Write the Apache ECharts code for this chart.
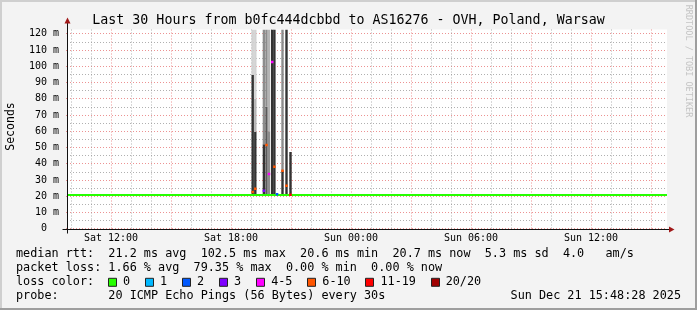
<!DOCTYPE html>
<html><head><meta charset="utf-8">
<script src="https://cdn.jsdelivr.net/npm/echarts@6/dist/echarts.min.js"></script>
<style>html,body{margin:0;padding:0;background:#f3f3f3}#c{width:697px;height:310px}</style>
</head><body><div id="c"></div>
<script>
// ---------------- data ----------------
const TITLE = 'Last 30 Hours from b0fc444dcbbd to AS16276 - OVH, Poland, Warsaw';
// time axis: hours since Sat 00:00 (Sat 09:48 -> Sun 15:48)
const X_START = 9.8, X_END = 39.8;
const xLabelHours = [12, 18, 24, 30, 36];
const xLabels = ['Sat 12:00', 'Sat 18:00', 'Sun 00:00', 'Sun 06:00', 'Sun 12:00'];
const xMajorHours = [12, 15, 18, 21, 24, 27, 30, 33, 36, 39];
const xMinorHours = [10, 11, 13, 14, 16, 17, 19, 20, 22, 23, 25, 26, 28, 29, 31, 32, 34, 35, 37, 38];
const yLabelValues = [0, 10, 20, 30, 40, 50, 60, 70, 80, 90, 100, 110, 120];
const yMinorValues = [5, 15, 25, 35, 45, 55, 65, 75, 85, 95, 105, 115];
const Y_MAX = 122.6;

// median rtt (ms), loss 0 -> green line
const medianTimes = [9.8, 39.8];
const medianValues = [20.7, 20.7];

// median points with packet loss (time, ms, loss class index)
const lossTimes   = [19.085, 19.215, 19.645, 19.775, 19.9, 20.06, 20.17, 20.3, 20.575, 20.775, 20.975];
const lossMedians = [22.6, 24.6, 23.4, 51.5, 33.7, 102.6, 38.2, 21.2, 35.7, 26.5, 20.9];
const lossClass   = [5, 5, 3, 5, 4, 4, 5, 2, 5, 5, 6];

// smoke (ping spread) segments: time, low ms, high ms, density level (0 light .. 4 dense)
const smokeTimes = [19.085, 19.085, 19.215, 19.215, 19.215, 19.645, 19.645, 19.775, 19.775, 19.9, 19.9, 20.06, 20.17, 20.3, 20.575, 20.575, 20.775, 20.975];
const smokeLow   = [20.5, 94.6, 20.5, 59.5, 80, 20.5, 52, 20.5, 75, 20.5, 60, 20.5, 20.5, 20.5, 20.5, 36, 20.5, 20.5];
const smokeHigh  = [94.6, 122.6, 59.5, 80, 122.6, 52, 122.6, 75, 122.6, 60, 122.6, 122.6, 122.6, 22, 36, 122.6, 122.6, 47.2];
const smokeLevel = [4, 0, 4, 1, 0, 4, 2, 3, 2, 2, 1, 4, 4, 2, 4, 2, 4, 4];

// legend
const lossLabels = ['0', '1', '2', '3', '4-5', '6-10', '11-19', '20/20'];
const statsRtt  = 'median rtt:  21.2 ms avg  102.5 ms max  20.6 ms min  20.7 ms now  5.3 ms sd  4.0   am/s';
const statsLoss = 'packet loss: 1.66 % avg  79.35 % max  0.00 % min  0.00 % now';
const probeLine = 'probe:       20 ICMP Echo Pings (56 Bytes) every 30s';
const stampText = 'Sun Dec 21 15:48:28 2025';
const WATERMARK = 'RRDTOOL / TOBI OETIKER';
const Y_NAME = 'Seconds';

// ---------------- styles ----------------
const LOSS_COLORS = ['#26ff00', '#00b8ff', '#0059ff', '#7e00ff', '#ff00ff', '#ff5500', '#ff0000', '#a00000'];
const SMOKE_SHADES = ['#d2d2d2', '#b4b4b4', '#8c8c8c', '#5a5a5a', '#333333'];
const BIN_HOURS = 0.12;
const MONO = '"DejaVu Sans Mono", monospace';
const MINOR_GRID = { color: 'rgba(150,150,150,0.75)', type: [1, 2], width: 1 };
const MAJOR_GRID = { color: 'rgba(230,110,110,0.75)', type: [1, 2], width: 1 };

const chart = echarts.init(document.getElementById('c'), null, { renderer: 'canvas' });

const smokeData = smokeTimes.map((t, i) => [t, smokeLow[i], smokeHigh[i], smokeLevel[i]]);
const lossData = lossTimes.map((t, i) => [t, lossMedians[i], lossClass[i]]);
const medianData = medianTimes.map((t, i) => [t, medianValues[i]]);

const hidden = { axisLine: { show: false }, axisLabel: { show: false } };

chart.setOption({
  backgroundColor: '#f3f3f3',
  animation: false,
  title: {
    text: TITLE, left: 'center', top: 8,
    textStyle: { fontFamily: MONO, fontSize: 13.3, fontWeight: 'normal', color: '#000', lineHeight: 15 }
  },
  grid: [{ left: 67, right: 30, top: 29.5, bottom: 81.3, show: true, backgroundColor: '#ffffff', borderWidth: 0,
           containLabel: false, outerBoundsMode: 'none' }],
  xAxis: [
    { type: 'value', min: X_START, max: X_END, position: 'bottom', ...hidden,
      axisTick: { show: false, customValues: xMinorHours },
      splitLine: { show: true, lineStyle: MINOR_GRID } },
    { type: 'value', min: X_START, max: X_END, position: 'bottom',
      axisLine: { show: false },
      axisTick: { show: true, inside: false, length: 3, customValues: xMajorHours, lineStyle: MAJOR_GRID },
      splitLine: { show: true, lineStyle: MAJOR_GRID },
      axisLabel: { show: true, customValues: xLabelHours, margin: 5, fontFamily: MONO, fontSize: 10, color: '#000',
        formatter: v => xLabels[xLabelHours.indexOf(Math.round(v))] || '' } }
  ],
  yAxis: [
    { type: 'value', min: 0, max: Y_MAX, position: 'left', ...hidden,
      axisTick: { show: false, customValues: yMinorValues },
      splitLine: { show: true, lineStyle: MINOR_GRID } },
    { type: 'value', min: 0, max: Y_MAX, position: 'left',
      axisLine: { show: false },
      axisTick: { show: true, length: 3, customValues: yLabelValues, lineStyle: MAJOR_GRID },
      splitLine: { show: true, lineStyle: MAJOR_GRID },
      axisLabel: { show: true, customValues: yLabelValues, margin: 8, fontFamily: MONO, fontSize: 10, color: '#000',
        formatter: v => v === 0 ? '0  ' : v + ' m' } }
  ],
  series: [
    { type: 'custom', xAxisIndex: 0, yAxisIndex: 0, clip: true, z: 2, data: smokeData,
      renderItem(params, api) {
        const t = api.value(0), lo = api.value(1), hi = api.value(2), lv = api.value(3);
        const p0 = api.coord([t, lo]), p1 = api.coord([t, hi]);
        const w = api.size([BIN_HOURS, 0])[0];
        return { type: 'rect', shape: { x: p0[0] - w / 2, y: p1[1], width: w, height: p0[1] - p1[1] },
                 style: { fill: SMOKE_SHADES[lv] } };
      } },
    { type: 'line', xAxisIndex: 0, yAxisIndex: 0, data: medianData, symbol: 'none', z: 3,
      lineStyle: { color: LOSS_COLORS[0], width: 2 } },
    { type: 'custom', xAxisIndex: 0, yAxisIndex: 0, clip: true, z: 4, data: lossData,
      renderItem(params, api) {
        const p = api.coord([api.value(0), api.value(1)]);
        return { type: 'rect', shape: { x: p[0] - 1.25, y: p[1] - 1.25, width: 2.5, height: 2.5 },
                 style: { fill: LOSS_COLORS[api.value(2)] } };
      } }
  ]
});

// ---- decorations (frame, axes with arrows, legend text) ----
const o = chart.convertToPixel({ xAxisIndex: 0, yAxisIndex: 0 }, [X_START, 0]);
const e = chart.convertToPixel({ xAxisIndex: 0, yAxisIndex: 0 }, [X_END, Y_MAX]);
const W = 697, H = 310;
const FS = 11.8, CW = FS * 0.602, LX = 16;
const rows = [254.3, 268.3, 282.3, 296.2];
const txt = (text, x, y, extra) => ({ type: 'text', x, y, silent: true,
  style: Object.assign({ text, font: FS + 'px ' + MONO, fill: '#000', align: 'left', verticalAlign: 'middle' }, extra || {}) });

const g = [];
// frame shades
g.push({ type: 'rect', shape: { x: 0, y: 0, width: W, height: 2 }, style: { fill: '#cfcfcf' } });
g.push({ type: 'rect', shape: { x: 0, y: 0, width: 2, height: H }, style: { fill: '#cfcfcf' } });
g.push({ type: 'rect', shape: { x: 0, y: H - 2, width: W, height: 2 }, style: { fill: '#9e9e9e' } });
g.push({ type: 'rect', shape: { x: W - 2, y: 0, width: 2, height: H }, style: { fill: '#9e9e9e' } });
// axes
const ox = Math.round(o[0]) + 0.5, oy = Math.round(o[1]) + 0.5;
g.push({ type: 'line', shape: { x1: ox - 5, y1: oy, x2: e[0] + 3, y2: oy }, style: { stroke: '#111', lineWidth: 1 }, z: 50 });
g.push({ type: 'line', shape: { x1: ox, y1: oy + 4, x2: ox, y2: e[1] - 7 }, style: { stroke: '#111', lineWidth: 1 }, z: 50 });
g.push({ type: 'polygon', shape: { points: [[e[0] + 2, oy - 3], [e[0] + 7.5, oy], [e[0] + 2, oy + 3]] }, style: { fill: '#a01818' }, z: 51 });
g.push({ type: 'polygon', shape: { points: [[ox - 3, e[1] - 6], [ox, e[1] - 12], [ox + 3, e[1] - 6]] }, style: { fill: '#a01818' }, z: 51 });
// y axis name and watermark
g.push(txt(Y_NAME, 11, 126.5, { align: 'center', font: '11.5px ' + MONO }));
g[g.length - 1].rotation = Math.PI / 2;
g.push(txt(WATERMARK, 688, 61, { align: 'center', font: '8.5px ' + MONO, fill: '#c4c4c4' }));
g[g.length - 1].rotation = -Math.PI / 2;
// legend rows
g.push(txt(statsRtt, LX, rows[0]));
g.push(txt(statsLoss, LX, rows[1]));
g.push(txt('loss color:', LX, rows[2]));
let bx = 108;
lossLabels.forEach((lab, i) => {
  g.push({ type: 'rect', shape: { x: Math.round(bx) + 0.5, y: rows[2] - 4, width: 8, height: 8 },
           style: { fill: LOSS_COLORS[i], stroke: '#222', lineWidth: 1 } });
  g.push(txt(lab, bx + 15, rows[2]));
  bx += 15 + lab.length * 7.04 + 15;
});
g.push(txt(probeLine, LX, rows[3]));
g.push(txt(stampText, 681, rows[3], { align: 'right' }));

chart.setOption({ graphic: g });
</script>
</body></html>
